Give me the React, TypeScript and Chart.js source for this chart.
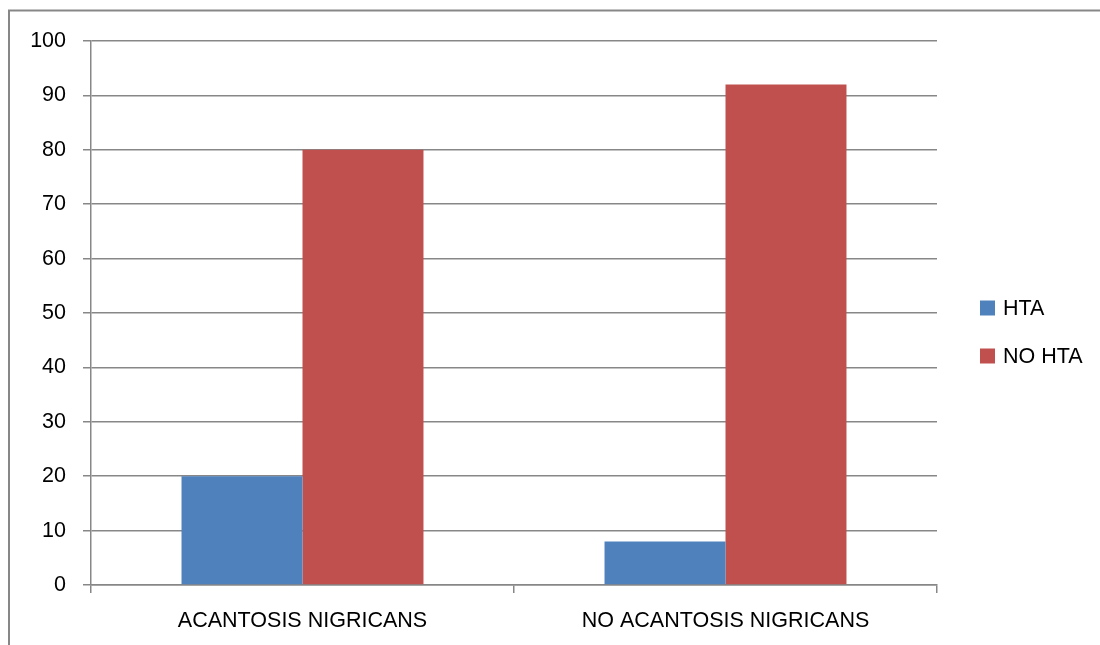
import React, { useEffect, useRef } from "react";
import { Chart, registerables } from "chart.js";

Chart.register(...registerables);

const categories = ["ACANTOSIS NIGRICANS", "NO ACANTOSIS NIGRICANS"];
const seriesNames = ["HTA", "NO HTA"];
const htaValues = [20, 8];
const noHtaValues = [80, 92];
const yMin = 0;
const yMax = 100;
const yStep = 10;

const FONT = "'Liberation Sans', Arial, sans-serif";
const GRID = "#878787";

const borderPlugin = {
  id: "outerBorder",
  beforeDraw(chart: any) {
    const ctx = chart.ctx;
    ctx.save();
    ctx.fillStyle = "#fff";
    ctx.fillRect(0, 0, chart.width, chart.height);
    ctx.strokeStyle = GRID;
    ctx.lineWidth = 2;
    ctx.strokeRect(9, 10.5, 1300, 1300);
    ctx.restore();
  },
};

const legendPlugin = {
  id: "customLegend",
  afterDraw(chart: any) {
    const ctx = chart.ctx;
    ctx.save();
    const rows = [308, 356];
    chart.data.datasets.forEach((ds: any, i: number) => {
      const cy = rows[i];
      ctx.fillStyle = ds.backgroundColor;
      ctx.fillRect(980, cy - 7.5, 15, 15);
      ctx.fillStyle = "#000";
      ctx.font = `21.5px ${FONT}`;
      ctx.textBaseline = "middle";
      ctx.textAlign = "left";
      ctx.fillText(ds.label, 1003, cy + 1);
    });
    ctx.restore();
  },
};

export default function App() {
  const ref = useRef<HTMLCanvasElement>(null);
  useEffect(() => {
    if (!ref.current) return;
    const chart = new Chart(ref.current, {
      type: "bar",
      data: {
        labels: categories,
        datasets: [
          { label: seriesNames[0], data: htaValues, backgroundColor: "#4F81BD", borderWidth: 0 },
          { label: seriesNames[1], data: noHtaValues, backgroundColor: "#C0504D", borderWidth: 0 },
        ],
      },
      options: {
        responsive: false,
        animation: false,
        devicePixelRatio: 1,
        categoryPercentage: 0.572,
        barPercentage: 1,
        layout: { padding: { top: 41, right: 163, bottom: 0, left: 0 } },
        plugins: { legend: { display: false }, tooltip: { enabled: false } },
        scales: {
          x: {
            offset: true,
            grid: { offset: true, drawOnChartArea: false, drawTicks: true, tickLength: 8, color: GRID, lineWidth: 1.5 },
            border: { color: GRID, width: 1.5 },
            ticks: { color: "#000", font: { family: FONT, size: 21.5 }, padding: 15, maxRotation: 0 },
            afterFit: (s: any) => { s.height = 60; },
          },
          y: {
            min: yMin,
            max: yMax,
            grid: { color: GRID, tickLength: 8, lineWidth: 1.5 },
            border: { color: GRID, width: 1.5 },
            ticks: { stepSize: yStep, color: "#000", font: { family: FONT, size: 21.5 }, padding: 17 },
            afterFit: (s: any) => { s.width = 91; },
          },
        },
      } as any,
      plugins: [borderPlugin, legendPlugin],
    });
    return () => chart.destroy();
  }, []);
  return (
    <div style={{ position: "absolute", left: 0, top: 0, width: 1100, height: 645 }}>
      <canvas ref={ref} width={1100} height={645} style={{ display: "block" }} />
    </div>
  );
}
